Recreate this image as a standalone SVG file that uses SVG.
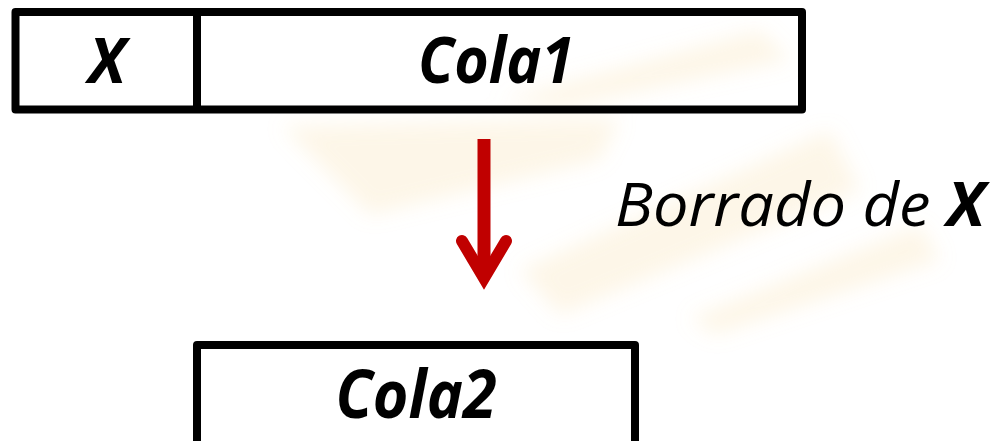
<svg xmlns="http://www.w3.org/2000/svg" width="999" height="441" viewBox="0 0 999 441">
<defs>
<style>
.box{fill:none;stroke:#000;stroke-width:8;stroke-linejoin:round}
.lbl{font-family:"Open Sans","Noto Sans","DejaVu Sans",sans-serif;font-style:italic;fill:#000}
.b{font-weight:bold}
.wm{fill:#f6d795;opacity:0.22}
</style>
<filter id="blur" x="-20%" y="-20%" width="140%" height="140%"><feGaussianBlur stdDeviation="10"/></filter>
</defs>
<rect width="999" height="441" fill="#fff"/>
<g id="watermark" filter="url(#blur)">
<polygon class="wm" points="282,126 620,118 600,160 370,215"/>
<polygon class="wm" points="500,100 760,30 790,60 560,108"/>
<polygon class="wm" points="520,270 830,130 860,190 560,315"/>
<polygon class="wm" points="690,318 920,225 940,260 715,335"/>
</g>
<g id="node-cola1">
<rect class="box" x="15.5" y="12" width="786.5" height="97.5"/>
<line x1="197" y1="12" x2="197" y2="109.5" stroke="#000" stroke-width="8"/>
<text class="lbl b" x="107" y="83" font-size="62" text-anchor="middle">X</text>
<text class="lbl b" x="496" y="83" font-size="64" text-anchor="middle" textLength="156" lengthAdjust="spacingAndGlyphs">Cola1</text>
</g>
<g id="node-cola2">
<rect class="box" x="197" y="345" width="438" height="110"/>
<text class="lbl b" x="416" y="418" font-size="66" text-anchor="middle" textLength="161" lengthAdjust="spacingAndGlyphs">Cola2</text>
</g>
<g id="connectors">
<line x1="484" y1="139" x2="484" y2="276" stroke="#c00000" stroke-width="13"/>
<polyline points="462,241 484,278 506,241" fill="none" stroke="#c00000" stroke-width="12" stroke-linecap="round" stroke-linejoin="miter"/>
<text class="lbl" x="615" y="226" font-size="61" textLength="370" lengthAdjust="spacingAndGlyphs">Borrado de <tspan class="b">X</tspan></text>
</g>
</svg>
